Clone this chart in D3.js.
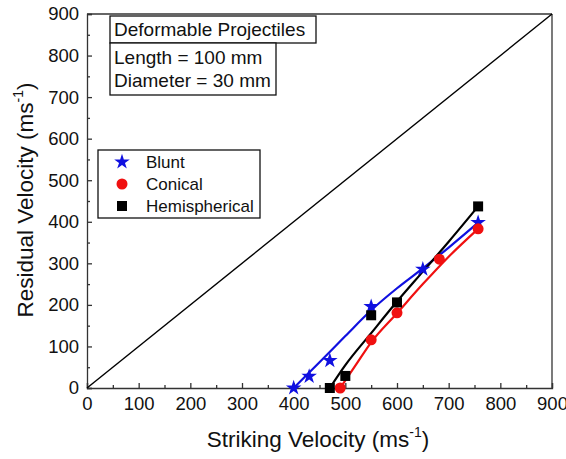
<!DOCTYPE html>
<html>
<head>
<meta charset="utf-8">
<script src="https://cdn.jsdelivr.net/npm/d3@7"></script>
<style>
  body { margin: 0; background: #fff; }
  text { font-family: Arial, "Liberation Sans", sans-serif; fill: #111; }
</style>
</head>
<body>
<div id="chart"></div>
<script>
// data (m/s)
const seriesNames = ["Blunt", "Conical", "Hemispherical"];
const seriesColors = ["#1010e0", "#f01010", "#000000"];

const bluntPts = [[400, 0], [430, 28], [470, 66], [550, 196], [650, 286], [757, 398]];
const conicalPts = [[490, 0], [550, 116], [600, 181], [682, 310], [757, 383]];
const hemiPts = [[470, 0], [500, 29], [550, 175], [600, 206], [757, 437]];

// fitted curves
const bluntFit = [[400, 0], [450, 62], [500, 125], [550, 187], [600, 240], [650, 288], [700, 338], [757, 398]];
const conicalFit = [[490, 0], [520, 55], [550, 110], [600, 180], [650, 250], [700, 316], [757, 383]];
const hemiFit = [[470, 0], [500, 55], [550, 132], [600, 208], [650, 280], [700, 352], [757, 437]];

const xTicks = [0, 100, 200, 300, 400, 500, 600, 700, 800, 900];
const yTicks = [0, 100, 200, 300, 400, 500, 600, 700, 800, 900];

const W = 566, H = 459;
const margin = { top: 14, right: 14, bottom: 71, left: 87 };
const iw = W - margin.left - margin.right;
const ih = H - margin.top - margin.bottom;

const svg = d3.select("#chart").append("svg")
  .attr("width", W)
  .attr("height", H);

const g = svg.append("g")
  .attr("transform", `translate(${margin.left},${margin.top})`);

const x = d3.scaleLinear().domain([0, 900]).range([0, iw]);
const y = d3.scaleLinear().domain([0, 900]).range([ih, 0]);

// axes - ticks pointing in
const minorX = d3.range(50, 900, 100);
g.append("g")
  .attr("transform", `translate(0,${ih})`)
  .call(d3.axisBottom(x).tickValues(xTicks).tickSize(-5).tickPadding(9).tickFormat(d3.format("d")))
  .call(a => a.select(".domain").attr("stroke", "#333").attr("stroke-width", 1.3))
  .call(a => a.selectAll("line").attr("stroke", "#333").attr("stroke-width", 1.3))
  .call(a => a.selectAll("text").style("font-size", "18.5px").style("font-family", "Arial, 'Liberation Sans', sans-serif").attr("fill", "#111"));
g.append("g")
  .attr("transform", `translate(0,${ih})`)
  .call(d3.axisBottom(x).tickValues(minorX).tickSize(-3).tickFormat(""))
  .call(a => a.select(".domain").remove())
  .call(a => a.selectAll("line").attr("stroke", "#333").attr("stroke-width", 1.3));

g.append("g")
  .call(d3.axisLeft(y).tickValues(yTicks).tickSize(-5).tickPadding(8).tickFormat(d3.format("d")))
  .call(a => a.select(".domain").attr("stroke", "#333").attr("stroke-width", 1.3))
  .call(a => a.selectAll("line").attr("stroke", "#333").attr("stroke-width", 1.3))
  .call(a => a.selectAll("text").style("font-size", "18.5px").style("font-family", "Arial, 'Liberation Sans', sans-serif").attr("fill", "#111"));
g.append("g")
  .call(d3.axisLeft(y).tickValues(d3.range(50, 900, 100)).tickSize(-3).tickFormat(""))
  .call(a => a.select(".domain").remove())
  .call(a => a.selectAll("line").attr("stroke", "#333").attr("stroke-width", 1.3));

// top / right frame
g.append("line").attr("x1", 0).attr("x2", iw).attr("y1", 0).attr("y2", 0)
  .attr("stroke", "#333").attr("stroke-width", 1.3);
g.append("line").attr("x1", iw).attr("x2", iw).attr("y1", 0).attr("y2", ih)
  .attr("stroke", "#333").attr("stroke-width", 1.3);

// y = x line
g.append("line")
  .attr("x1", x(0)).attr("y1", y(0))
  .attr("x2", x(900)).attr("y2", y(900))
  .attr("stroke", "#000").attr("stroke-width", 1.4);

const line = d3.line()
  .x(d => x(d[0]))
  .y(d => y(d[1]))
  .curve(d3.curveMonotoneX);

const fits = [bluntFit, conicalFit, hemiFit];
const pts = [bluntPts, conicalPts, hemiPts];

fits.forEach((f, i) => {
  g.append("path")
    .datum(f)
    .attr("d", line)
    .attr("fill", "none")
    .attr("stroke", seriesColors[i])
    .attr("stroke-width", 2.2);
});

const symbols = [d3.symbolStar, d3.symbolCircle, d3.symbolSquare];
const symSizes = [75, 95, 100];

pts.forEach((p, i) => {
  g.selectAll(".pt" + i)
    .data(p)
    .enter().append("path")
    .attr("class", "pt" + i)
    .attr("transform", d => `translate(${x(d[0])},${y(d[1])})`)
    .attr("d", d3.symbol().type(symbols[i]).size(symSizes[i]))
    .attr("fill", seriesColors[i]);
});

// annotation boxes
svg.append("rect").attr("x", 110).attr("y", 16).attr("width", 206).attr("height", 27)
  .attr("fill", "#fff").attr("stroke", "#111").attr("stroke-width", 1.3);
svg.append("text").attr("x", 114).attr("y", 36).style("font-size", "19px")
  .text("Deformable Projectiles");

svg.append("rect").attr("x", 110).attr("y", 43).attr("width", 166).attr("height", 52)
  .attr("fill", "#fff").attr("stroke", "#111").attr("stroke-width", 1.3);
svg.append("text").attr("x", 114).attr("y", 64).style("font-size", "19px")
  .text("Length = 100 mm");
svg.append("text").attr("x", 114).attr("y", 87).style("font-size", "19px")
  .text("Diameter = 30 mm");

// legend
const lg = svg.append("g");
lg.append("rect").attr("x", 98).attr("y", 150).attr("width", 162).attr("height", 68)
  .attr("fill", "#fff").attr("stroke", "#111").attr("stroke-width", 1.3);
seriesNames.forEach((name, i) => {
  const cy = 162 + i * 22;
  lg.append("path")
    .attr("transform", `translate(122,${cy})`)
    .attr("d", d3.symbol().type(symbols[i]).size(symSizes[i]))
    .attr("fill", seriesColors[i]);
  lg.append("text")
    .attr("x", 146).attr("y", cy + 6)
    .style("font-size", "17px")
    .text(name);
});

// axis titles
const xt = svg.append("text")
  .attr("x", 318).attr("y", 447)
  .attr("text-anchor", "middle")
  .style("font-size", "22.5px");
xt.append("tspan").text("Striking Velocity (ms");
xt.append("tspan").text("-1").style("font-size", "14px").attr("dy", -10);
xt.append("tspan").text(")").attr("dy", 10);

const yt = svg.append("text")
  .attr("transform", `translate(33,${margin.top + ih / 2 - 1}) rotate(-90)`)
  .attr("text-anchor", "middle")
  .style("font-size", "22.5px");
yt.append("tspan").text("Residual Velocity (ms");
yt.append("tspan").text("-1").style("font-size", "14px").attr("dy", -10);
yt.append("tspan").text(")").attr("dy", 10);
</script>
</body>
</html>
